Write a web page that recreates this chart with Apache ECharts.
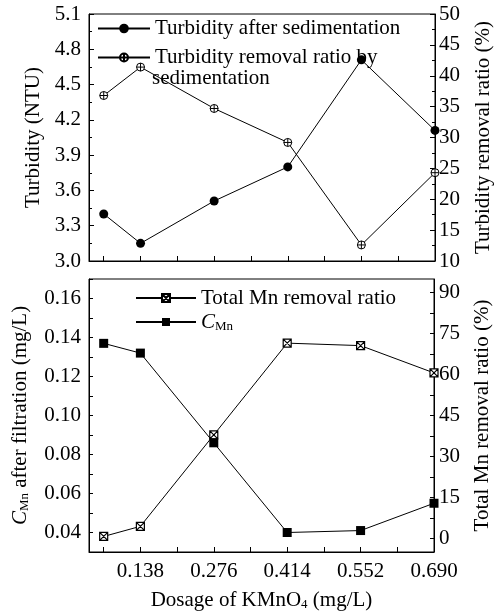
<!DOCTYPE html>
<html>
<head>
<meta charset="utf-8">
<script src="https://cdn.jsdelivr.net/npm/echarts@6/dist/echarts.min.js"></script>
<style>
html, body { margin: 0; padding: 0; background: #fff; }
#chart { width: 494px; height: 612px; }
</style>
</head>
<body>
<div id="chart"></div>
<script>
// dosage of KMnO4 (mg/L)
var dosage = [0.069, 0.138, 0.276, 0.414, 0.552, 0.690];
var dosageLabels = [0.138, 0.276, 0.414, 0.552, 0.690];
var dosageTicks = [0.069, 0.138, 0.207, 0.276, 0.345, 0.414, 0.483, 0.552, 0.621, 0.690];

// top panel
var turbidity = [3.40, 3.15, 3.51, 3.80, 4.71, 4.11];
var turbRemoval = [36.8, 41.4, 34.7, 29.2, 12.6, 24.3];

// bottom panel
var cMn = [0.137, 0.132, 0.086, 0.040, 0.041, 0.055];
var mnRemoval = [0.7, 4.4, 37.9, 71.5, 70.6, 60.6];
var cMnLabels = [0.04, 0.06, 0.08, 0.10, 0.12, 0.14, 0.16];
var cMnTicks = [0.04, 0.05, 0.06, 0.07, 0.08, 0.09, 0.10, 0.11, 0.12, 0.13, 0.14, 0.15, 0.16, 0.17];
var mnLabels = [0, 15, 30, 45, 60, 75, 90];
var mnTicks = [0, 7.5, 15, 22.5, 30, 37.5, 45, 52.5, 60, 67.5, 75, 82.5, 90];

var FONT = 'Liberation Serif';
var chart = echarts.init(document.getElementById('chart'));

function pairs(ys) {
	return ys.map(function (y, i) { return [dosage[i], y]; });
}

var circlePlus = 'path://M0,-10A10,10 0 1,1 0,10A10,10 0 1,1 0,-10ZM-10,0L10,0M0,-10L0,10';
var boxCross = 'path://M-10,-10L10,-10L10,10L-10,10ZM-10,-10L10,10M10,-10L-10,10';

var axLine = { show: true, onZero: false, lineStyle: { color: '#000', width: 1 } };
var nameStyle = {
	color: '#000', fontFamily: FONT, fontSize: 21,
	rich: {
		i: { fontFamily: FONT, fontSize: 21, fontStyle: 'italic', color: '#000' },
		s: { fontFamily: FONT, fontSize: 13, color: '#000', verticalAlign: 'bottom', padding: [8, 0, 0, 0] },
		n: { fontFamily: FONT, fontSize: 21, color: '#000' }
	}
};

function xAxisFor(g, showLabels) {
	return {
		type: 'value', gridIndex: g, min: 0.0414, max: 0.69,
		axisLine: axLine,
		axisTick: { show: true, inside: true, length: 5, customValues: dosageTicks, lineStyle: { color: '#000' } },
		axisLabel: { show: showLabels, customValues: dosageLabels, margin: 9, color: '#000', fontFamily: FONT, fontSize: 21,
			formatter: function (v) { return v.toFixed(3); } },
		splitLine: { show: false }
	};
}

var option = {
	animation: false,
	backgroundColor: '#fff',
	grid: [
		{ left: 89, right: 59, top: 14, height: 247, outerBoundsMode: 'none', show: true, borderColor: '#000', borderWidth: 1 },
		{ left: 89, right: 60, top: 279, height: 273, outerBoundsMode: 'none', show: true, borderColor: '#000', borderWidth: 1 }
	],
	legend: [
		{
			data: ['Turbidity after sedimentation'], left: 97, top: 18, padding: 0, itemWidth: 52, itemHeight: 12, itemGap: 0,
			textStyle: { color: '#000', fontFamily: FONT, fontSize: 21 }
		},
		{
			data: ['Turbidity removal ratio by'], left: 97, top: 47, padding: 0, itemWidth: 52, itemHeight: 10, itemGap: 0,
			textStyle: { color: '#000', fontFamily: FONT, fontSize: 21 }
		},
		{
			data: ['Total Mn removal ratio', 'CMn'], orient: 'vertical', left: 135, top: 287, padding: 0,
			itemWidth: 60, itemHeight: 10, itemGap: 2,
			formatter: function (name) { return name === 'CMn' ? '{i|C}{s|Mn}' : name; },
			textStyle: Object.assign({ lineHeight: 22 }, nameStyle)
		}
	],
	graphic: [
		{ type: 'text', left: 152, top: 68, style: { text: 'sedimentation', fill: '#000', font: '21px "Liberation Serif"' } }
	],
	xAxis: [xAxisFor(0, false), xAxisFor(1, true)],
	yAxis: [
		{
			type: 'value', gridIndex: 0, min: 3.0, max: 5.1, interval: 0.3,
			name: 'Turbidity (NTU)', nameLocation: 'middle', nameGap: 39, nameRotate: 90, nameTextStyle: nameStyle,
			axisLine: axLine,
			axisTick: { inside: true, length: 5, lineStyle: { color: '#000' } },
			minorTick: { show: true, splitNumber: 2, length: 3, lineStyle: { color: '#000' } },
			axisLabel: { color: '#000', fontFamily: FONT, fontSize: 21, margin: 8, formatter: function (v) { return v.toFixed(1); } },
			splitLine: { show: false }
		},
		{
			type: 'value', gridIndex: 0, position: 'right', min: 10, max: 50, interval: 5,
			name: 'Turbidity removal ratio (%)', nameLocation: 'middle', nameGap: 38, nameRotate: 90, nameTextStyle: nameStyle,
			axisLine: axLine,
			axisTick: { inside: true, length: 5, lineStyle: { color: '#000' } },
			minorTick: { show: true, splitNumber: 2, length: 3, lineStyle: { color: '#000' } },
			axisLabel: { color: '#000', fontFamily: FONT, fontSize: 21, margin: 4 },
			splitLine: { show: false }
		},
		{
			type: 'value', gridIndex: 1, min: 0.03, max: 0.17,
			name: '{i|C}{s|Mn}{n| after filtration (mg/L)}', nameLocation: 'middle', nameGap: 58, nameRotate: 90, nameTextStyle: nameStyle,
			axisLine: axLine,
			axisTick: { inside: true, length: 4, customValues: cMnTicks, lineStyle: { color: '#000' } },
			axisLabel: { color: '#000', fontFamily: FONT, fontSize: 21, margin: 8, customValues: cMnLabels,
				formatter: function (v) { return v.toFixed(2); } },
			splitLine: { show: false }
		},
		{
			type: 'value', gridIndex: 1, position: 'right', min: -5, max: 95,
			name: 'Total Mn removal ratio (%)', nameLocation: 'middle', nameGap: 38, nameRotate: 90, nameTextStyle: nameStyle,
			axisLine: axLine,
			axisTick: { inside: true, length: 4, customValues: mnTicks, lineStyle: { color: '#000' } },
			axisLabel: { color: '#000', fontFamily: FONT, fontSize: 21, margin: 5, customValues: mnLabels },
			splitLine: { show: false }
		}
	],
	series: [
		{
			name: 'Turbidity after sedimentation', type: 'line', xAxisIndex: 0, yAxisIndex: 0,
			data: pairs(turbidity), symbol: 'circle', symbolSize: 9,
			lineStyle: { color: '#000', width: 1 }, itemStyle: { color: '#000' }
		},
		{
			name: 'Turbidity removal ratio by', type: 'line', xAxisIndex: 0, yAxisIndex: 1,
			data: pairs(turbRemoval), symbol: circlePlus, symbolSize: 8,
			lineStyle: { color: '#000', width: 1 }, itemStyle: { color: '#fff', borderColor: '#000', borderWidth: 1 }
		},
		{
			name: 'Total Mn removal ratio', type: 'line', xAxisIndex: 1, yAxisIndex: 3,
			data: pairs(mnRemoval), symbol: boxCross, symbolSize: 8,
			lineStyle: { color: '#000', width: 1 }, itemStyle: { color: '#fff', borderColor: '#000', borderWidth: 1.2 }
		},
		{
			name: 'CMn', type: 'line', xAxisIndex: 1, yAxisIndex: 2,
			data: pairs(cMn), symbol: 'rect', symbolSize: 9,
			lineStyle: { color: '#000', width: 1 }, itemStyle: { color: '#000' }
		}
	]
};

option.xAxis[1].name = '{n|Dosage of KMnO}{s|4}{n| (mg/L)}';
option.xAxis[1].nameLocation = 'middle';
option.xAxis[1].nameGap = 38;
option.xAxis[1].nameTextStyle = nameStyle;

chart.setOption(option);
</script>
</body>
</html>
